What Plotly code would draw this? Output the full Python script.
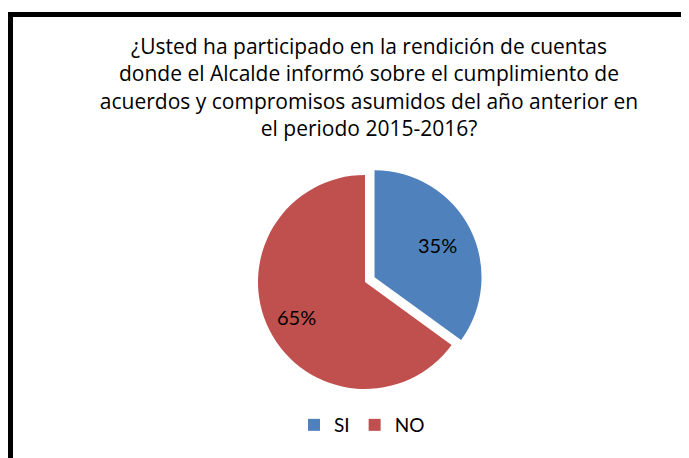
import math
import plotly.graph_objects as go

labels = ["SI", "NO"]
values = [35, 65]
colors = ["#4F81BD", "#C0504D"]
pulls = [0.1, 0.0]
title_lines = [
    "¿Usted ha participado en la rendición de cuentas",
    "donde el Alcalde informó sobre el cumplimiento de",
    "acuerdos y compromisos asumidos del año anterior en",
    "el periodo 2015-2016?",
]

W, H = 689, 458
TITLE_FONT = "'Open Sans', sans-serif"
FONT = "Lato, 'Open Sans', sans-serif"

# pie geometry (figure pixels)
CX, CY, R = 357, 274, 107
half = R * (1 + max(pulls))
dom_x = [(CX - half) / W, (CX + half) / W]
dom_y = [1 - (CY + half) / H, 1 - (CY - half) / H]

fig = go.Figure(go.Pie(
    labels=labels,
    values=values,
    marker=dict(colors=colors, line=dict(width=0)),
    sort=False,
    direction="clockwise",
    rotation=0,
    pull=pulls,
    textinfo="none",
    domain=dict(x=dom_x, y=dom_y),
    hoverinfo="label+percent",
))

# percentage labels placed at each slice's mid-angle
total = sum(values)
cum = 0
annotations = []
label_r = [0.66, 0.72]
for v, p, lr in zip(values, pulls, label_r):
    mid = (cum + v / 2) / total * 2 * math.pi
    cum += v
    dx, dy = math.sin(mid), -math.cos(mid)
    px = CX + dx * R * (p + lr)
    py = CY + dy * R * (p + lr)
    annotations.append(dict(
        text=f"{round(v / total * 100)}%",
        x=px / W, y=1 - py / H, xref="paper", yref="paper",
        xanchor="center", yanchor="middle", showarrow=False,
        font=dict(family=FONT, size=20, color="black"),
    ))

fig.update_layout(
    width=W, height=H,
    margin=dict(l=0, r=0, t=0, b=0),
    paper_bgcolor="white",
    plot_bgcolor="white",
    font=dict(family=FONT, color="black"),
    title=dict(
        text="<br>".join(title_lines),
        font=dict(family=TITLE_FONT, size=21, color="black"),
        x=361 / W, xanchor="center",
        y=1 - 46 / H, yanchor="top",
        xref="paper", yref="container",
    ),
    legend=dict(
        orientation="h",
        x=354 / W, xanchor="center",
        y=1 - 417 / H, yanchor="middle",
        font=dict(family=FONT, size=19, color="black"),
        traceorder="normal",
    ),
    annotations=annotations,
    shapes=[dict(
        type="rect", xref="paper", yref="paper",
        x0=2.5 / W, x1=1 + 20 / W, y0=-20 / H, y1=1 - 6.5 / H,
        line=dict(color="black", width=5),
        fillcolor="rgba(0,0,0,0)",
    )],
)

fig.write_html("out.html")
